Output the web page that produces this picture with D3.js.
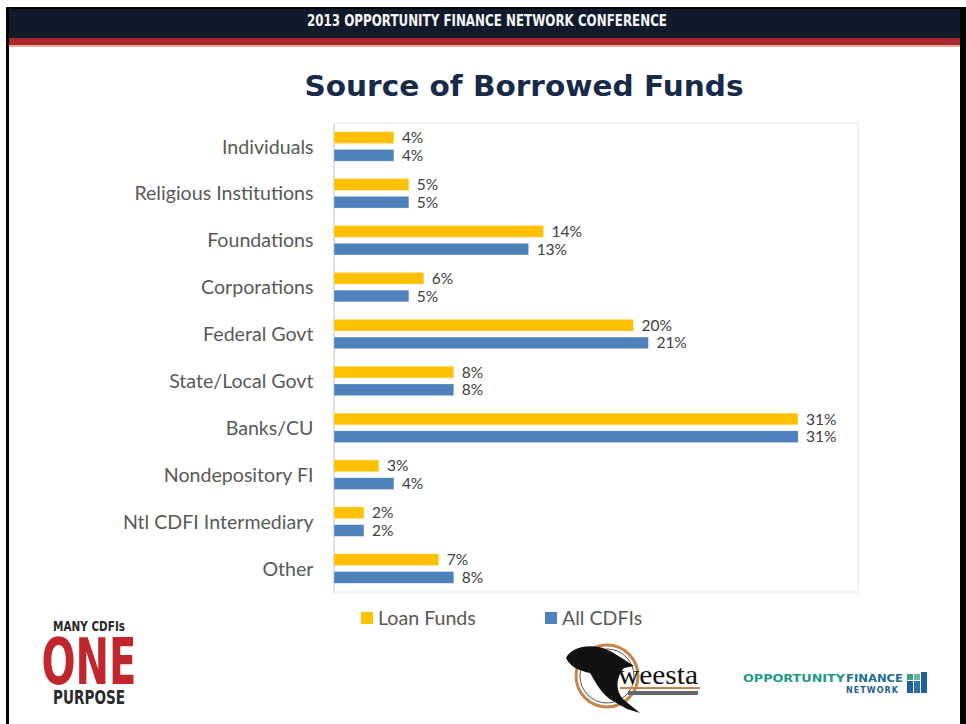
<!DOCTYPE html>
<html><head><meta charset="utf-8">
<script src="https://cdn.jsdelivr.net/npm/d3@7"></script>
<style>html,body{margin:0;padding:0;background:#fff;}svg{display:block;}</style>
</head><body>
<svg id="c" width="966" height="724"></svg>
<script>
const categories = ["Individuals","Religious Institutions","Foundations","Corporations","Federal Govt","State/Local Govt","Banks/CU","Nondepository FI","Ntl CDFI Intermediary","Other"];
const loanFunds = [4,5,14,6,20,8,31,3,2,7];
const allCDFIs = [4,5,13,5,21,8,31,4,2,8];
const seriesNames = ["Loan Funds","All CDFIs"];
const seriesColors = ["#FFC000","#4F81BD"];
const xMax = 35;
const title = "Source of Borrowed Funds";
const header = "2013 OPPORTUNITY FINANCE NETWORK CONFERENCE";

const svg = d3.select("#c");

// slide frame & header
svg.append("rect").attr("x",6).attr("y",7).attr("width",955).attr("height",32).attr("fill","#111a2b");
svg.append("rect").attr("x",6).attr("y",38).attr("width",955).attr("height",7).attr("fill","#a8282a");
svg.append("rect").attr("x",6).attr("y",45).attr("width",955).attr("height",2).attr("fill","#f2a6a0");
svg.append("rect").attr("x",6).attr("y",7).attr("width",955).attr("height",2).attr("fill","#000");
svg.append("rect").attr("x",6).attr("y",7).attr("width",3).attr("height",717).attr("fill","#000");
svg.append("rect").attr("x",960).attr("y",7).attr("width",6).attr("height",717).attr("fill","#000");
svg.append("text").attr("x",487).attr("y",26).attr("text-anchor","middle")
  .attr("font-family","'Liberation Sans Narrow','DejaVu Sans Condensed',sans-serif").attr("font-weight","bold")
  .attr("font-size",15).attr("fill","#f4f4f4").attr("textLength",360).attr("lengthAdjust","spacingAndGlyphs").text(header);

// title
svg.append("text").attr("x",524).attr("y",96).attr("text-anchor","middle")
  .attr("font-family","'DejaVu Sans',Verdana,sans-serif").attr("font-weight","bold")
  .attr("font-size",29).attr("fill","#172a4a").attr("textLength",439).attr("lengthAdjust","spacingAndGlyphs").text(title);

// chart
const plot = {left:334, right:858, top:123, bottom:592};
const x = d3.scaleLinear().domain([0,xMax]).range([plot.left, plot.right]);
const y = d3.scaleBand().domain(categories).range([plot.top, plot.bottom]).padding(0);
const inner = d3.scaleBand().domain(seriesNames).range([8.75, y.bandwidth()-8.75]).paddingInner(0.34).paddingOuter(0);

svg.append("rect").attr("x",plot.left).attr("y",plot.top).attr("width",plot.right-plot.left).attr("height",plot.bottom-plot.top)
  .attr("fill","#fff").attr("stroke","#dce4f0").attr("stroke-width",1);

const font = "Lato,'Open Sans',sans-serif";
const yAxis = svg.append("g").attr("transform",`translate(${plot.left-0.5},0)`).call(d3.axisLeft(y).tickSize(0).tickPadding(20));
yAxis.select(".domain").attr("stroke","#d0d0d0");
yAxis.selectAll("text").attr("font-family",font).attr("font-size",19.6).attr("fill","#595959").attr("dy","0.36em");

const data = [];
categories.forEach((c,i)=>{
  data.push({cat:c, s:seriesNames[0], v:loanFunds[i], col:seriesColors[0]});
  data.push({cat:c, s:seriesNames[1], v:allCDFIs[i], col:seriesColors[1]});
});
svg.append("g").selectAll("rect").data(data).join("rect")
  .attr("x",x(0)).attr("y",d=>y(d.cat)+inner(d.s)).attr("width",d=>x(d.v)-x(0)).attr("height",inner.bandwidth())
  .attr("fill",d=>d.col).attr("stroke","#fff").attr("stroke-opacity",0.5).attr("stroke-width",0.5);
svg.append("g").selectAll("text").data(data).join("text")
  .attr("x",d=>x(d.v)+8).attr("y",d=>y(d.cat)+inner(d.s)+inner.bandwidth()/2).attr("dy","0.36em")
  .attr("font-family",font).attr("font-size",15.5).attr("fill","#404040").text(d=>d.v+"%");

// legend
const legX = [361, 545];
seriesNames.forEach((s,i)=>{
  svg.append("rect").attr("x",legX[i]).attr("y",612).attr("width",12).attr("height",12).attr("fill",seriesColors[i]);
  svg.append("text").attr("x",legX[i]+17).attr("y",625).attr("font-family",font)
    .attr("font-size",19.6).attr("fill","#595959").text(s);
});

// logos (decorative)
const cond = "'Liberation Sans Narrow','DejaVu Sans Condensed',sans-serif";
svg.append("text").attr("x",89).attr("y",631).attr("text-anchor","middle").attr("font-family",cond).attr("font-weight","bold")
  .attr("font-size",14).attr("fill","#2a2a2a").attr("textLength",72).attr("lengthAdjust","spacingAndGlyphs").text("MANY CDFIs");
svg.append("text").attr("x",89).attr("y",684).attr("text-anchor","middle").attr("font-family",cond).attr("font-weight","bold")
  .attr("font-size",64).attr("fill","#c0272d").attr("textLength",95).attr("lengthAdjust","spacingAndGlyphs").text("ONE");
svg.append("text").attr("x",89).attr("y",704).attr("text-anchor","middle").attr("font-family",cond).attr("font-weight","bold")
  .attr("font-size",20).attr("fill","#2a2a2a").attr("textLength",72).attr("lengthAdjust","spacingAndGlyphs").text("PURPOSE");

// weesta
const w = svg.append("g");
w.append("circle").attr("cx",607).attr("cy",676).attr("r",31).attr("fill","none").attr("stroke","#c8854a").attr("stroke-width",3);
w.append("circle").attr("cx",607).attr("cy",676).attr("r",27).attr("fill","none").attr("stroke","#555").attr("stroke-width",1);
w.append("path").attr("d","M566,658 C572,646 594,642 612,652 C622,658 628,662 634,666 L624,668 C617,676 614,690 624,700 L640,713 L627,709 L613,701 C602,695 596,683 590,673 C580,671 570,667 566,658 Z").attr("fill","#111");
w.append("text").attr("x",618).attr("y",684).attr("font-family","'Liberation Serif',serif").attr("font-size",27).attr("fill","#111").attr("textLength",80).attr("lengthAdjust","spacingAndGlyphs").text("weesta");
w.append("rect").attr("x",620).attr("y",687).attr("width",80).attr("height",2).attr("fill","#c8854a");
w.append("rect").attr("x",628).attr("y",691).attr("width",70).attr("height",4).attr("fill","#666");

// OFN
const o = svg.append("g");
o.append("text").attr("x",743).attr("y",682).attr("font-family","'DejaVu Sans',sans-serif").attr("font-weight","bold")
  .attr("font-size",11).attr("fill","#1f9a86").attr("textLength",102).attr("lengthAdjust","spacingAndGlyphs").text("OPPORTUNITY");
o.append("text").attr("x",846).attr("y",682).attr("font-family","'DejaVu Sans',sans-serif").attr("font-weight","bold")
  .attr("font-size",11).attr("fill","#1c6f8c").attr("textLength",57).attr("lengthAdjust","spacingAndGlyphs").text("FINANCE");
o.append("text").attr("x",846).attr("y",693).attr("font-family","'DejaVu Sans',sans-serif").attr("font-weight","bold")
  .attr("font-size",8).attr("fill","#1c5f8c").attr("textLength",52).attr("lengthAdjust","spacing").text("NETWORK");
o.append("rect").attr("x",907).attr("y",674).attr("width",6).attr("height",6).attr("fill","#3aa08a");
o.append("rect").attr("x",914).attr("y",674).attr("width",6).attr("height",6).attr("fill","#6fb3a0");
o.append("rect").attr("x",921).attr("y",672).attr("width",6).attr("height",21).attr("fill","#1c5f9c");
o.append("rect").attr("x",907).attr("y",681).attr("width",6).attr("height",12).attr("fill","#1c5f9c");
o.append("rect").attr("x",914).attr("y",681).attr("width",6).attr("height",12).attr("fill","#2a72aa");
</script>
</body></html>
